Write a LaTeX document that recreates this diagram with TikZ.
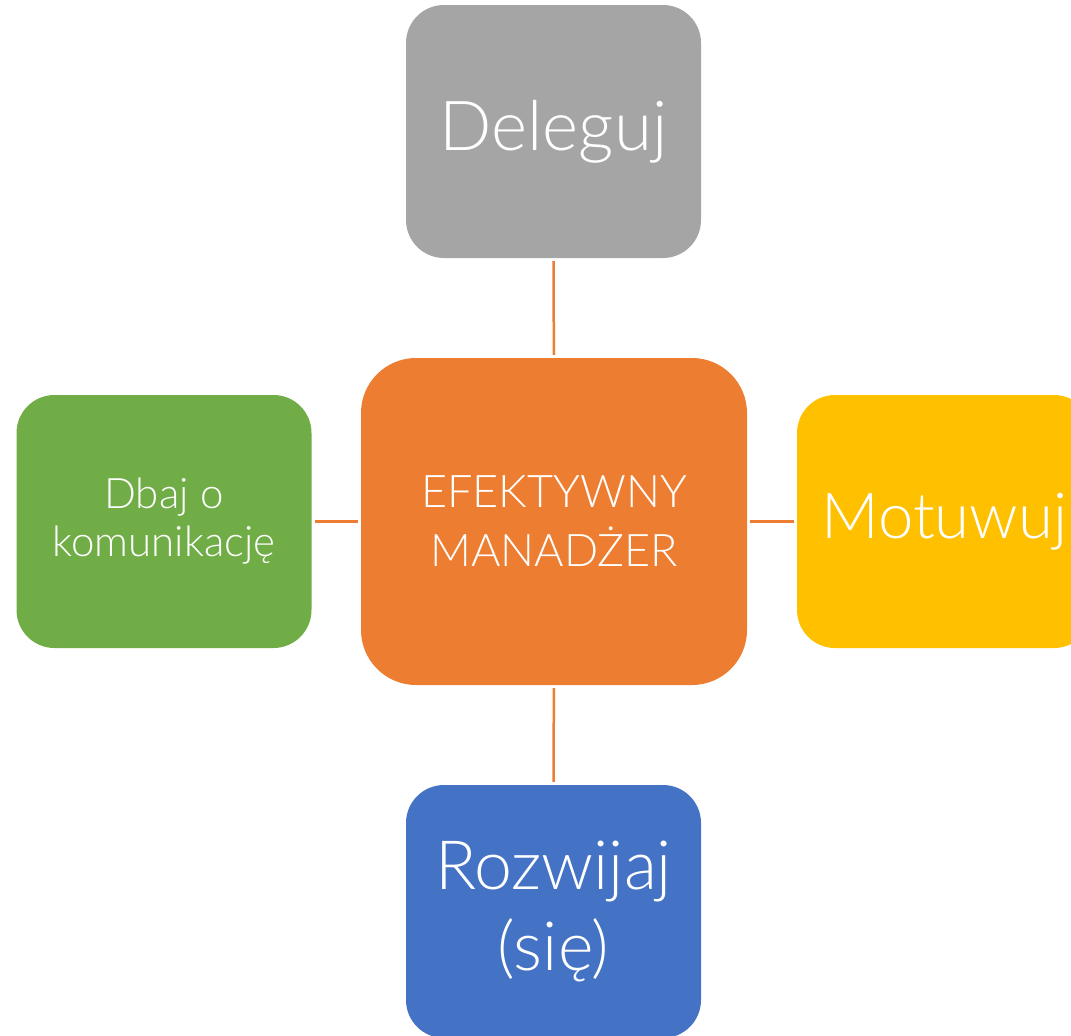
\documentclass[tikz,border=0pt]{standalone}
\usepackage{fontspec}
\setmainfont{Lato}[UprightFont={* Light}]
\definecolor{cgray}{HTML}{A5A5A5}
\definecolor{corange}{HTML}{ED7D31}
\definecolor{cgreen}{HTML}{70AD47}
\definecolor{cyellow}{HTML}{FFC000}
\definecolor{cblue}{HTML}{4472C4}
\tikzset{
  boxsmall/.style={rectangle, rounded corners=38pt, inner sep=0pt, minimum width=295pt, minimum height=253pt, text=white, align=center},
  boxbig/.style={rectangle, rounded corners=55pt, inner sep=0pt, minimum width=386pt, minimum height=327pt, text=white, align=center, fill=corange},
  conn/.style={draw=corange, line width=2.5pt, shorten <=3pt, shorten >=3pt}
}
\begin{document}
\begin{tikzpicture}[x=1pt,y=-1pt]
\useasboundingbox (0,0) rectangle (1071,1036);
\clip (0,0) rectangle (1071,1036);
\node[boxbig, font={\fontsize{45}{59}\selectfont}] (ctr) at (554,521.5) {EFEKTYWNY\\MANADŻER};
\node[boxsmall, fill=cgray, font={\fontsize{69}{81}\selectfont}] (del) at (553.5,131.5) {Deleguj};
\node[boxsmall, fill=cgreen, font={\fontsize{42}{48}\selectfont}] (kom) at (164,521.5) {Dbaj o\\komunikację};
\node[boxsmall, fill=cyellow, font={\fontsize{63.5}{75}\selectfont}] (mot) at (944.5,521.5) {Motuwuj};
\node[boxsmall, fill=cblue, font={\fontsize{68}{81}\selectfont}] (roz) at (553.5,911.5) {Rozwijaj\\(się)};
\draw[conn] (del) -- (ctr);
\draw[conn] (kom) -- (ctr);
\draw[conn] (ctr) -- (mot);
\draw[conn] (ctr) -- (roz);
\end{tikzpicture}
\end{document}
